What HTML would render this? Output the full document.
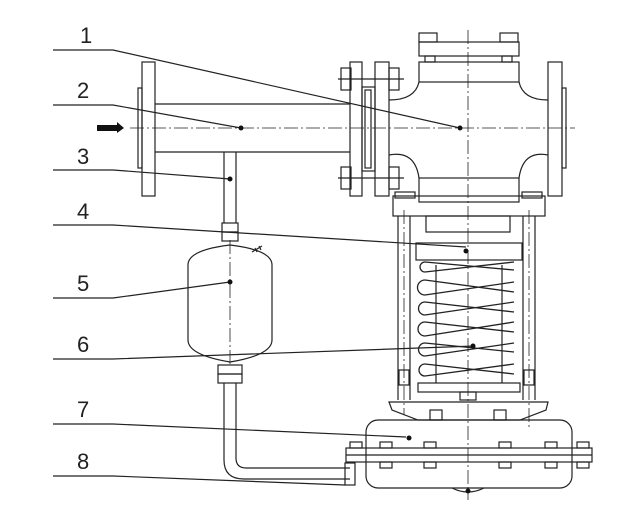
<!DOCTYPE html>
<html><head><meta charset="utf-8"><style>
html,body{margin:0;padding:0;background:#fff;}
svg{display:block}
text{font-family:"Liberation Sans",sans-serif;font-size:22px;fill:#222}
</style></head><body>
<svg width="626" height="527" viewBox="0 0 626 527" xmlns="http://www.w3.org/2000/svg">
<g fill="none" stroke="#222" stroke-width="1.2">
<!-- leader lines -->
<polyline points="53,50 113,50 460,128"/>
<polyline points="53,105 113,105 241,128"/>
<polyline points="53,170 113,170 230,179"/>
<polyline points="53,225 113,225 466,247"/>
<polyline points="53,298 113,298 230,282"/>
<polyline points="53,359 113,359 475,346"/>
<polyline points="53,424 113,424 406,437"/>
<polyline points="53,476 113,476 345,485"/>
<!-- center lines -->
<g stroke-dasharray="14,3,2,3" stroke-width="0.8">
<line x1="130" y1="128" x2="575" y2="128"/>
<line x1="468" y1="30" x2="468" y2="500"/>
<line x1="230" y1="240" x2="230" y2="365"/>
<line x1="404" y1="210" x2="404" y2="415"/>
<line x1="529" y1="210" x2="529" y2="430"/>
</g>
<!-- left flange and pipe -->
<rect x="142" y="62" width="13" height="134"/>
<rect x="138" y="88" width="4" height="80"/>
<line x1="155" y1="104" x2="350" y2="104"/>
<line x1="155" y1="152" x2="350" y2="152"/>
<!-- right side flanges -->
<rect x="350" y="62" width="12" height="134"/>
<rect x="375" y="62" width="14" height="134"/>
<rect x="362" y="87" width="13" height="84"/>
<rect x="365" y="90" width="6" height="78"/>
<rect x="341" y="68" width="10" height="22"/><rect x="389" y="68" width="10" height="22"/>
<rect x="341" y="167" width="10" height="22"/><rect x="389" y="167" width="10" height="22"/>
<line x1="338" y1="79" x2="404" y2="79"/><line x1="338" y1="178" x2="404" y2="178"/>
<!-- valve body -->
<rect x="419" y="42" width="100" height="14"/>
<rect x="419" y="62" width="100" height="20"/>
<rect x="419" y="33" width="18" height="9"/><rect x="500" y="33" width="18" height="9"/>
<rect x="425" y="56" width="10" height="6"/><rect x="502" y="56" width="10" height="6"/>
<path d="M419,82 Q415,100 389,100"/>
<path d="M519,82 Q523,100 548,100"/>
<path d="M389,155 Q415,150 419,178"/>
<path d="M548,155 Q523,150 519,178"/>
<rect x="419" y="178" width="100" height="24"/>
<rect x="548" y="62" width="14" height="134"/>
<rect x="562" y="88" width="4" height="80"/>
<!-- yoke -->
<rect x="393" y="196" width="152" height="20" />
<rect x="395" y="192" width="20" height="6"/><rect x="522" y="192" width="20" height="6"/>
<line x1="398" y1="216" x2="398" y2="400"/><line x1="410" y1="216" x2="410" y2="400"/>
<line x1="523" y1="216" x2="523" y2="400"/><line x1="535" y1="216" x2="535" y2="400"/>
<rect x="399" y="370" width="10" height="15"/><rect x="524" y="370" width="10" height="15"/>
<rect x="426" y="216" width="84" height="16"/>
<rect x="416" y="243" width="106" height="17"/>
<rect x="418" y="383" width="102" height="9"/>
<!-- spring -->
<g stroke-width="1.3">
<path d="M425,262 L514,270 M425,272 L514,262 M425,280 L514,292 M425,295 L514,282 M425,302 L514,312 M425,315 L514,302 M425,322 L514,332 M425,336 L514,322 M425,343 L514,352 M425,356 L514,343 M425,364 L514,374 M425,376 L514,364"/>
<path d="M425,262 a5,5 0 0 0 0,10 M425,280 a5,5 0 0 0 0,15 M425,302 a5,5 0 0 0 0,13 M425,322 a5,5 0 0 0 0,14 M425,343 a5,5 0 0 0 0,13 M425,364 a5,5 0 0 0 0,12"/>
</g>
<line x1="436" y1="265" x2="436" y2="383"/><line x1="502" y1="265" x2="502" y2="383"/>
<!-- base plate -->
<path d="M389,402 L548,402 L546,410 L520,420 L418,420 L392,410 Z"/>
<rect x="460" y="392" width="16" height="8"/>
<rect x="430" y="410" width="12" height="10"/><rect x="494" y="410" width="12" height="10"/>
<!-- diaphragm housing -->
<rect x="366" y="420" width="206" height="68" rx="12"/>
<rect x="346" y="448" width="246" height="14"/>
<line x1="346" y1="455" x2="592" y2="455"/>
<g>
<rect x="350" y="442" width="12" height="6"/><rect x="380" y="442" width="12" height="6"/><rect x="424" y="442" width="12" height="6"/><rect x="499" y="442" width="12" height="6"/><rect x="545" y="442" width="12" height="6"/><rect x="577" y="442" width="12" height="6"/>
<rect x="380" y="462" width="12" height="6"/><rect x="424" y="462" width="12" height="6"/><rect x="499" y="462" width="12" height="6"/><rect x="545" y="462" width="12" height="6"/><rect x="577" y="462" width="12" height="6"/>
</g>
<path d="M452,488 Q468,496 484,488"/>
<!-- small pipe -->
<line x1="224" y1="152" x2="224" y2="223"/><line x1="236" y1="152" x2="236" y2="223"/>
<rect x="222" y="223" width="16" height="9"/><rect x="222" y="232" width="16" height="9"/>
<path d="M188,265 Q188,250 230,245 Q272,250 272,265 L272,340 Q272,355 230,362 Q188,355 188,340 Z"/>
<path d="M252,252 l10,-6 M255,248 l2,4 M259,246 l2,4"/>
<rect x="218" y="365" width="24" height="9"/><rect x="218" y="374" width="24" height="9"/>
<path d="M224,383 L224,460 Q224,479 244,479 L350,479"/>
<path d="M236,383 L236,458 Q236,468 246,468 L350,468"/>
<rect x="345" y="463" width="10" height="22"/>
</g>
<!-- dots -->
<g fill="#111">
<circle cx="460" cy="128" r="2.5"/><circle cx="241" cy="128" r="2.5"/><circle cx="230" cy="179" r="2.5"/>
<circle cx="466" cy="251" r="2.5"/><circle cx="230" cy="282" r="2.5"/><circle cx="473" cy="346" r="2.5"/>
<circle cx="409" cy="438" r="2.5"/><circle cx="468" cy="491" r="2.5"/>
</g>
<!-- arrow -->
<path d="M97,125 L117,125 L117,122 L124,128 L117,133 L117,131 L97,131 Z" fill="#111"/>
<g>
<text x="80" y="43">1</text><text x="77" y="98">2</text><text x="77" y="164">3</text><text x="77" y="219">4</text>
<text x="77" y="291">5</text><text x="77" y="352">6</text><text x="77" y="417">7</text><text x="77" y="469">8</text>
</g>
</svg>
</body></html>
